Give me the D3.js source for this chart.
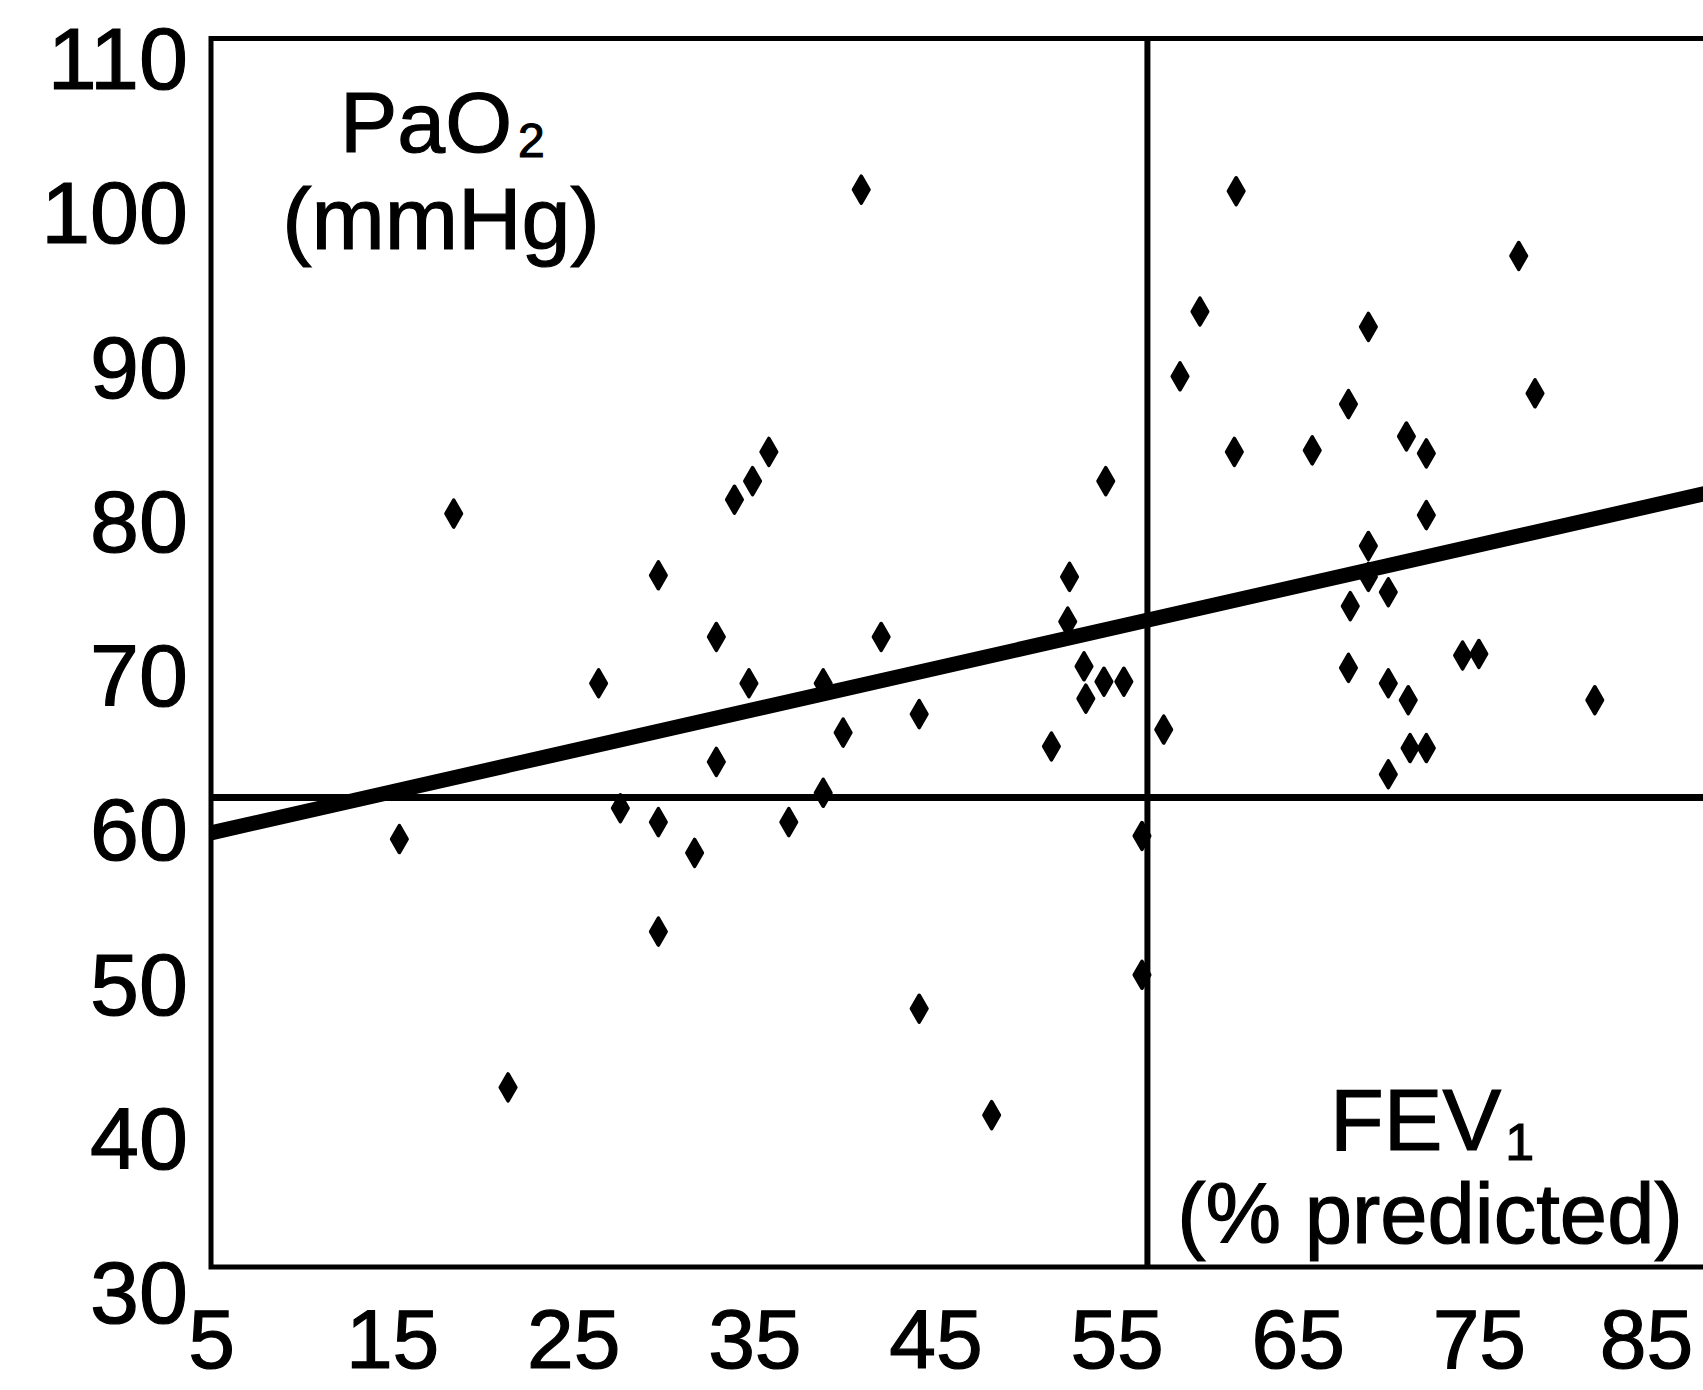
<!DOCTYPE html>
<html>
<head>
<meta charset="utf-8">
<script src="https://cdn.jsdelivr.net/npm/d3@7"></script>
<style>
  body { margin: 0; background: #fff; }
  text { font-family: "Liberation Sans", Arial, sans-serif; fill: #000; stroke: #000; stroke-width: 1.2px; }
</style>
</head>
<body>
<div id="chart"></div>
<script>
// FEV1 (% predicted) against PaO2 (mmHg), one point per patient
const fev1 = [18.4, 15.4, 21.4, 26.4, 27.6, 29.7, 29.7, 29.7, 31.7, 32.9,
              32.9, 33.9, 34.9, 35.8, 34.7, 36.9, 38.8, 38.8, 39.9, 40.9,
              42.0, 44.1, 44.1, 48.1, 51.4, 52.4, 52.3, 53.2, 53.3, 54.3,
              55.4, 54.4, 56.4, 56.4, 57.6, 58.5, 59.6, 61.6, 61.5, 65.8,
              67.8, 67.9, 67.8, 68.9, 68.9, 68.9, 70.0, 70.0, 70.0, 71.0,
              71.1, 71.2, 72.1, 72.1, 72.1, 74.1, 75.0, 77.2, 78.1, 81.4];
const pao2 = [80.4, 59.3, 43.2, 69.4, 61.3, 76.4, 60.4, 53.3, 58.4, 72.4,
              64.3, 81.3, 82.5, 84.4, 69.4, 60.4, 69.4, 62.3, 66.2, 101.4,
              72.4, 67.4, 48.3, 41.4, 65.3, 76.3, 73.4, 70.5, 68.4, 69.5,
              69.5, 82.5, 59.5, 50.5, 66.4, 89.3, 93.5, 101.3, 84.4, 84.5,
              87.5, 74.4, 70.4, 92.5, 78.3, 76.3, 75.3, 69.4, 63.5, 85.4,
              68.3, 65.2, 84.3, 80.3, 65.2, 71.2, 71.3, 97.1, 88.2, 68.3];

const xTicks = [5, 15, 25, 35, 45, 55, 65, 75, 85];
const yTicks = [30, 40, 50, 60, 70, 80, 90, 100, 110];

// cut-off lines and regression line
const fevCutoff = 56.7;
const paoCutoff = 62.0;
const regression = [[5, 59.7], [87.5, 81.7]];

// extent of the drawn frame (in data units)
const frameX = [5, 88];
const frameY = [31.56, 111.2];

const width = 1703, height = 1390;

const svg = d3.select('#chart')
  .append('svg')
    .attr('width', width)
    .attr('height', height)
    .style('display', 'block')
    .style('background', '#fff');

const x = d3.scaleLinear().domain([5, 85]).range([211, 1660]);
const y = d3.scaleLinear().domain([30, 110]).range([1291, 57]);

// frame: top, left, bottom
svg.append('path')
  .attr('d', `M${x(frameX[1])},${y(frameY[1])}H${x(frameX[0])}V${y(frameY[0])}H${x(frameX[1])}`)
  .attr('fill', 'none')
  .attr('stroke', '#000')
  .attr('stroke-width', 5)
  .attr('stroke-linecap', 'square');

// cut-off lines
svg.append('line')
  .attr('x1', x(fevCutoff)).attr('x2', x(fevCutoff))
  .attr('y1', y(frameY[0])).attr('y2', y(frameY[1]))
  .attr('stroke', '#000').attr('stroke-width', 6);

svg.append('line')
  .attr('x1', x(frameX[0])).attr('x2', x(frameX[1]))
  .attr('y1', y(paoCutoff)).attr('y2', y(paoCutoff))
  .attr('stroke', '#000').attr('stroke-width', 7);

// regression line
svg.append('path')
  .datum(regression)
  .attr('fill', 'none')
  .attr('stroke', '#000')
  .attr('stroke-width', 15)
  .attr('d', d3.line().x(d => x(d[0])).y(d => y(d[1])));

// points
const points = fev1.map((f, i) => [f, pao2[i]]);
svg.selectAll('path.pt')
  .data(points)
  .enter()
  .append('path')
    .attr('class', 'pt')
    .attr('transform', d => `translate(${x(d[0])},${y(d[1])})`)
    .attr('d', d3.symbol().type(d3.symbolDiamond).size(210))
    .attr('fill', '#000')
    .attr('stroke', '#000')
    .attr('stroke-width', 3.5)
    .attr('stroke-linejoin', 'round');

// axes (labels only)
const yAxis = svg.append('g')
  .attr('transform', 'translate(188,0)')
  .call(d3.axisLeft(y).tickValues(yTicks).tickSize(0).tickPadding(0));
yAxis.select('.domain').remove();
yAxis.selectAll('text')
  .attr('dy', '0.36em')
  .style('font-size', '88px')
  .style('font-family', '"Liberation Sans", Arial, sans-serif')
  .attr('fill', '#000');

const xAxis = svg.append('g')
  .attr('transform', 'translate(0,1308)')
  .call(d3.axisBottom(x).tickValues(xTicks).tickSize(0).tickPadding(0));
xAxis.select('.domain').remove();
xAxis.selectAll('text')
  .style('font-size', '84px')
  .style('font-family', '"Liberation Sans", Arial, sans-serif')
  .attr('fill', '#000');
// last label sits a little left of its tick in the original
xAxis.selectAll('.tick text').filter(d => d === 85).attr('dx', -14);

// y title
const yTitle = svg.append('text')
  .attr('x', 340).attr('y', 152)
  .style('font-size', '86px');
yTitle.append('tspan').text('PaO');
yTitle.append('tspan').text('2')
  .attr('dx', 6).attr('dy', 5)
  .style('font-size', '48px');

svg.append('text')
  .attr('x', 441).attr('y', 249)
  .attr('text-anchor', 'middle')
  .style('font-size', '88px')
  .text('(mmHg)');

// x title
const xTitle = svg.append('text')
  .attr('x', 1330).attr('y', 1150)
  .style('font-size', '88px');
xTitle.append('tspan').text('FEV');
xTitle.append('tspan').text('1')
  .attr('dx', 4).attr('dy', 10)
  .style('font-size', '52px');

svg.append('text')
  .attr('x', 1430).attr('y', 1243)
  .attr('text-anchor', 'middle')
  .style('font-size', '85px')
  .text('(% predicted)');
</script>
</body>
</html>
